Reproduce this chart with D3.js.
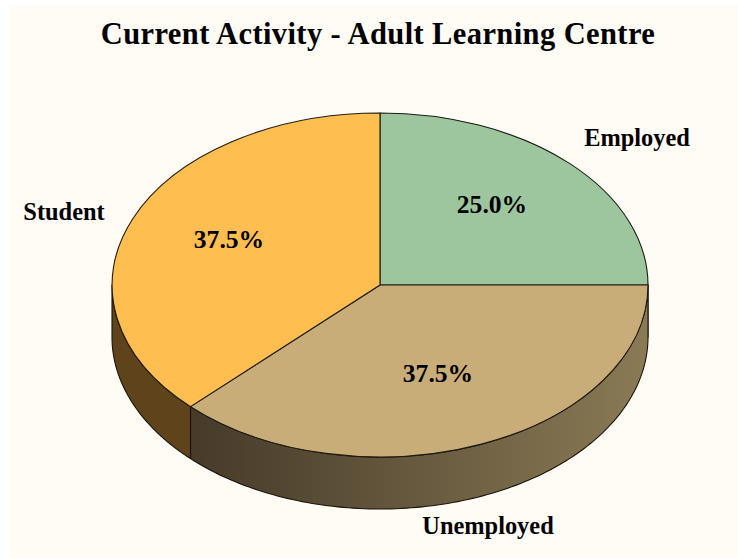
<!DOCTYPE html>
<html><head><meta charset="utf-8">
<script src="https://cdn.jsdelivr.net/npm/d3@7/dist/d3.min.js"></script>
<style>html,body{margin:0;padding:0;background:#fff}svg{display:block}text{font-family:"Liberation Serif",serif;font-weight:bold;fill:#000}</style>
</head><body><svg id="c" width="738" height="558"></svg>
<script>
const titleText = "Current Activity - Adult Learning Centre";
const categories = ["Employed","Unemployed","Student"];
const values = [25.0,37.5,37.5];
const pctLabels = ["25.0%","37.5%","37.5%"];
const topColors = ["#9dc69f","#c8ad78","#ffbe4f"];
const sideDark = ["#4f6350","#463a29","#5f431b"];
const sideLight = ["#4f6350","#8a7a55","#5f431b"];
const labelPos = [[637,140],[488,528],[64,214]];
const pctPos = [[492,207],[438,376],[229,242]];

const W=738,H=558,cx=380,cy=285,rx=268,ry=172,depth=52;
const svg=d3.select("#c");
svg.append("rect").attr("x",10).attr("y",5).attr("width",W-10).attr("height",H-5).attr("fill","#fffbf5");
const defs=svg.append("defs");

const pie=d3.pie().sort(null).value(d=>d);
const arcs=pie(values);
// pie angle measured clockwise from 12 o'clock; projected onto an ellipse
const px=a=>cx+rx*Math.sin(a), py=a=>cy-ry*Math.cos(a);
const line=d3.line();

// side walls: visible only where the rim is on the front half (angle between PI/2 and 3PI/2)
arcs.forEach((d,i)=>{
  const a0=Math.max(d.startAngle,Math.PI/2), a1=Math.min(d.endAngle,Math.PI*1.5);
  if(a1<=a0) return;
  const steps=d3.range(0,121).map(k=>a0+(a1-a0)*k/120);
  const top=steps.map(a=>[px(a),py(a)]);
  const bot=steps.slice().reverse().map(a=>[px(a),py(a)+depth]);
  const xs=top.map(p=>p[0]);
  const id="side"+i;
  const g=defs.append("linearGradient").attr("id",id).attr("gradientUnits","userSpaceOnUse")
    .attr("x1",d3.min(xs)).attr("x2",d3.max(xs)).attr("y1",0).attr("y2",0);
  // dark end at the left of the wall, light end at the right
  g.append("stop").attr("offset",0).attr("stop-color",sideDark[i]);
  g.append("stop").attr("offset",1).attr("stop-color",sideLight[i]);
  svg.append("path").attr("d",line(top.concat(bot))+"Z").attr("fill",`url(#${id})`)
    .attr("stroke","#1a1408").attr("stroke-width",1.1).attr("stroke-linejoin","round");
});

// top faces: unit-radius d3.arc stretched to the ellipse
const arc=d3.arc().innerRadius(0).outerRadius(1);
const topG=svg.append("g").attr("transform",`translate(${cx},${cy}) scale(${rx},${ry})`);
topG.selectAll("path").data(arcs).join("path")
  .attr("d",arc).attr("fill",(d,i)=>topColors[i])
  .attr("stroke","#1c1c10").attr("stroke-width",1.1).attr("stroke-linejoin","round")
  .attr("vector-effect","non-scaling-stroke");

const tx=(t,x,y,s,ls)=>svg.append("text").attr("x",x).attr("y",y).attr("text-anchor","middle")
  .attr("dominant-baseline","middle").attr("font-size",s).attr("letter-spacing",ls||0).text(t);
tx(titleText,378,36.5,30.5,0.4);
categories.forEach((c,i)=>tx(c,labelPos[i][0],labelPos[i][1],24.4));
pctLabels.forEach((c,i)=>tx(c,pctPos[i][0],pctPos[i][1],25.6));
</script></body></html>
